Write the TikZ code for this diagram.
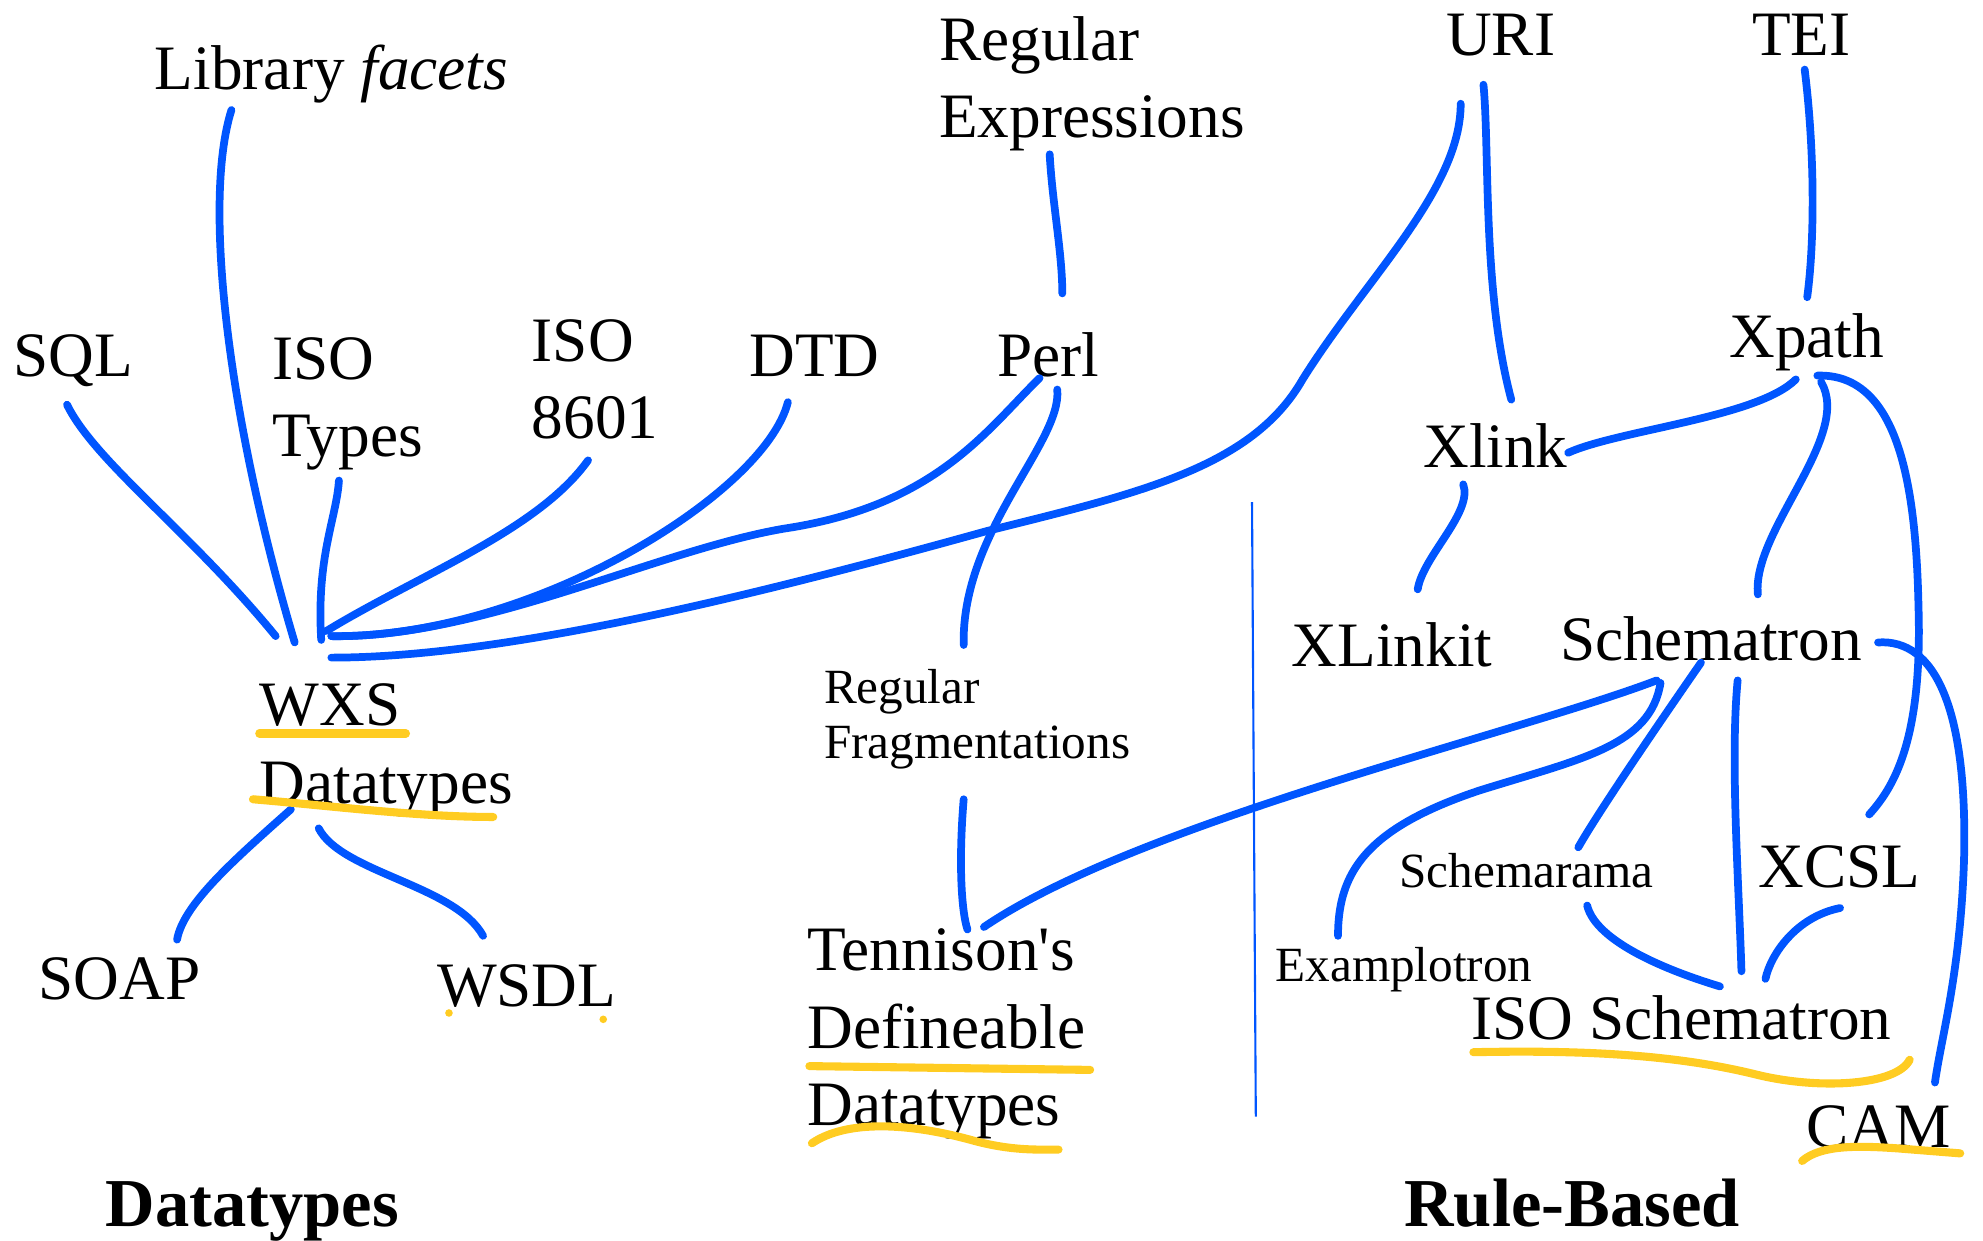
\documentclass[tikz,border=0pt]{standalone}
\usepackage{fontspec}
\setmainfont{Liberation Serif}
\definecolor{penblue}{RGB}{0,85,255}
\definecolor{marker}{RGB}{255,204,34}

\begin{document}
\begin{tikzpicture}[x=0.12647mm, y=-0.12647mm,
  every node/.style={font=\fontsize{18}{22}\selectfont, inner sep=0pt, anchor=base west, align=left},
  small/.style={font=\fontsize{14}{15.8}\selectfont},
  heading/.style={font=\fontsize{19.5}{22}\selectfont\bfseries},
  link/.style={draw=penblue, line width=2.2pt, line cap=round},
  hilite/.style={draw=marker, line width=2.3pt, line cap=round}]
\useasboundingbox (0,0) rectangle (1568,981);

\node (lib) at (122,71) {Library \textit{facets}};
\node (sql) at (10,298) {SQL};
\node (isotypes) at (215,361) {ISO\\Types};
\node (iso8601) at (420,347) {ISO\\8601};
\node (dtd) at (592,298) {DTD};
\node (perl) at (788,298) {Perl};
\node (regex) at (742,109) {Regular\\Expressions};
\node (uri) at (1143,44) {URI};
\node (tei) at (1385,44) {TEI};
\node (xpath) at (1367,283) {Xpath};
\node (xlink) at (1125,370) {Xlink};
\node (xlinkit) at (1021,527) {XLinkit};
\node (schematron) at (1233,522) {Schematron};
\node[small] (regfrag) at (651,600) {Regular\\Fragmentations};
\node (wxs) at (205,635) {WXS\\Datatypes};
\node (soap) at (30,790) {SOAP};
\node (wsdl) at (345,796) {WSDL};
\node (tennison) at (638,890) {Tennison\textquotesingle s\\Defineable\\Datatypes};
\node[small] (schemarama) at (1106,702) {Schemarama};
\node (xcsl) at (1390,702) {XCSL};
\node[small] (examplotron) at (1008,776) {Examplotron};
\node (isosch) at (1163,822) {ISO Schematron};
\node (cam) at (1428,907) {CAM};
\node[heading] (dtlabel) at (83,970) {Datatypes};
\node[heading] (rblabel) at (1110,970) {Rule-Based};

\draw[link] ([shift={(43,22)}]sql.base west) .. controls (75,365) and (150,420) .. ([shift={(13,-132)}]wxs.base west);
\draw[link] ([shift={(61,16)}]lib.base west) .. controls (160,160) and (180,330) .. ([shift={(28,-127)}]wxs.base west);
\draw[link] ([shift={(53,19)}]isotypes.base west) .. controls (266,410) and (250,440) .. ([shift={(49,-129)}]wxs.base west);
\draw[link] ([shift={(45,17)}]iso8601.base west) .. controls (425,420) and (330,455) .. ([shift={(53,-136)}]wxs.base west);
\draw[link] ([shift={(31,20)}]dtd.base west) .. controls (605,390) and (420,505) .. ([shift={(57,-132)}]wxs.base west);
\draw[link] ([shift={(34,1)}]perl.base west) .. controls (780,340) and (740,400) .. (620,418) .. controls (520,435) and (380,505) .. ([shift={(57,-132)}]wxs.base west);
\draw[link] ([shift={(12,38)}]uri.base west) .. controls (1155,150) and (1080,220) .. (1030,300) .. controls (990,370) and (900,390) .. (780,420) .. controls (600,470) and (400,520) .. ([shift={(57,-115)}]wxs.base west);
\draw[link] ([shift={(88,13)}]regex.base west) .. controls (832,160) and (840,200) .. ([shift={(52,-66)}]perl.base west);
\draw[link] ([shift={(48,10)}]perl.base west) .. controls (840,350) and (760,420) .. ([shift={(111,-90)}]regfrag.base west);
\draw[link] ([shift={(111,32)}]regfrag.base west) .. controls (758,680) and (760,720) .. ([shift={(127,-155)}]tennison.base west);
\draw[link] ([shift={(77,16)}]schematron.base west) .. controls (1200,580) and (900,650) .. ([shift={(140,-157)}]tennison.base west);
\draw[link] ([shift={(30,23)}]uri.base west) .. controls (1178,120) and (1172,230) .. ([shift={(70,-54)}]xlink.base west);
\draw[link] ([shift={(42,11)}]tei.base west) .. controls (1435,120) and (1435,190) .. ([shift={(62,-48)}]xpath.base west);
\draw[link] ([shift={(53,17)}]xpath.base west) .. controls (1390,330) and (1280,340) .. ([shift={(115,-12)}]xlink.base west);
\draw[link] ([shift={(32,13)}]xlink.base west) .. controls (1165,405) and (1125,440) .. ([shift={(100,-61)}]xlinkit.base west);
\draw[link] ([shift={(73,19)}]xpath.base west) .. controls (1465,345) and (1385,420) .. ([shift={(157,-52)}]schematron.base west);
\draw[link] ([shift={(70,14)}]xpath.base west) .. controls (1500,295) and (1515,380) .. (1517,480) .. controls (1520,580) and (1500,620) .. ([shift={(88,-58)}]xcsl.base west);
\draw[link] ([shift={(252,-14)}]schematron.base west) .. controls (1530,505) and (1556,560) .. (1553,680) .. controls (1550,770) and (1535,820) .. ([shift={(102,-51)}]cam.base west);
\draw[link] ([shift={(80,18)}]schematron.base west) .. controls (1305,590) and (1250,600) .. (1170,625) .. controls (1080,655) and (1058,690) .. ([shift={(50,-36)}]examplotron.base west);
\draw[link] ([shift={(112,2)}]schematron.base west) .. controls (1320,560) and (1265,640) .. ([shift={(142,-32)}]schemarama.base west);
\draw[link] ([shift={(141,16)}]schematron.base west) .. controls (1368,600) and (1375,700) .. ([shift={(214,-54)}]isosch.base west);
\draw[link] ([shift={(149,14)}]schemarama.base west) .. controls (1262,745) and (1320,768) .. ([shift={(197,-42)}]isosch.base west);
\draw[link] ([shift={(65,16)}]xcsl.base west) .. controls (1420,725) and (1400,755) .. ([shift={(233,-48)}]isosch.base west);
\draw[link] ([shift={(25,5)}]wxs.base west) .. controls (185,680) and (145,715) .. ([shift={(110,-47)}]soap.base west);
\draw[link] ([shift={(47,20)}]wxs.base west) .. controls (270,690) and (360,700) .. ([shift={(37,-56)}]wsdl.base west);

\draw[penblue, line width=0.6pt] (990,397) -- (993,883);

\draw[hilite] (205,580) -- (321,580);
\draw[hilite] (200,632) .. controls (260,637) and (330,646) .. (390,646);
\draw[hilite] (640,843) -- (862,846);
\draw[hilite] (642,904) .. controls (670,885) and (720,888) .. (770,902) .. controls (800,910) and (820,909) .. (837,909);
\draw[hilite] (1165,832) .. controls (1260,830) and (1330,835) .. (1390,850) .. controls (1440,862) and (1500,858) .. (1510,838);
\draw[hilite] (1425,918) .. controls (1440,905) and (1470,906) .. (1500,908) -- (1550,912);
\fill[marker] (355,801) circle (3) (477,806) circle (3);
\end{tikzpicture}
\end{document}
